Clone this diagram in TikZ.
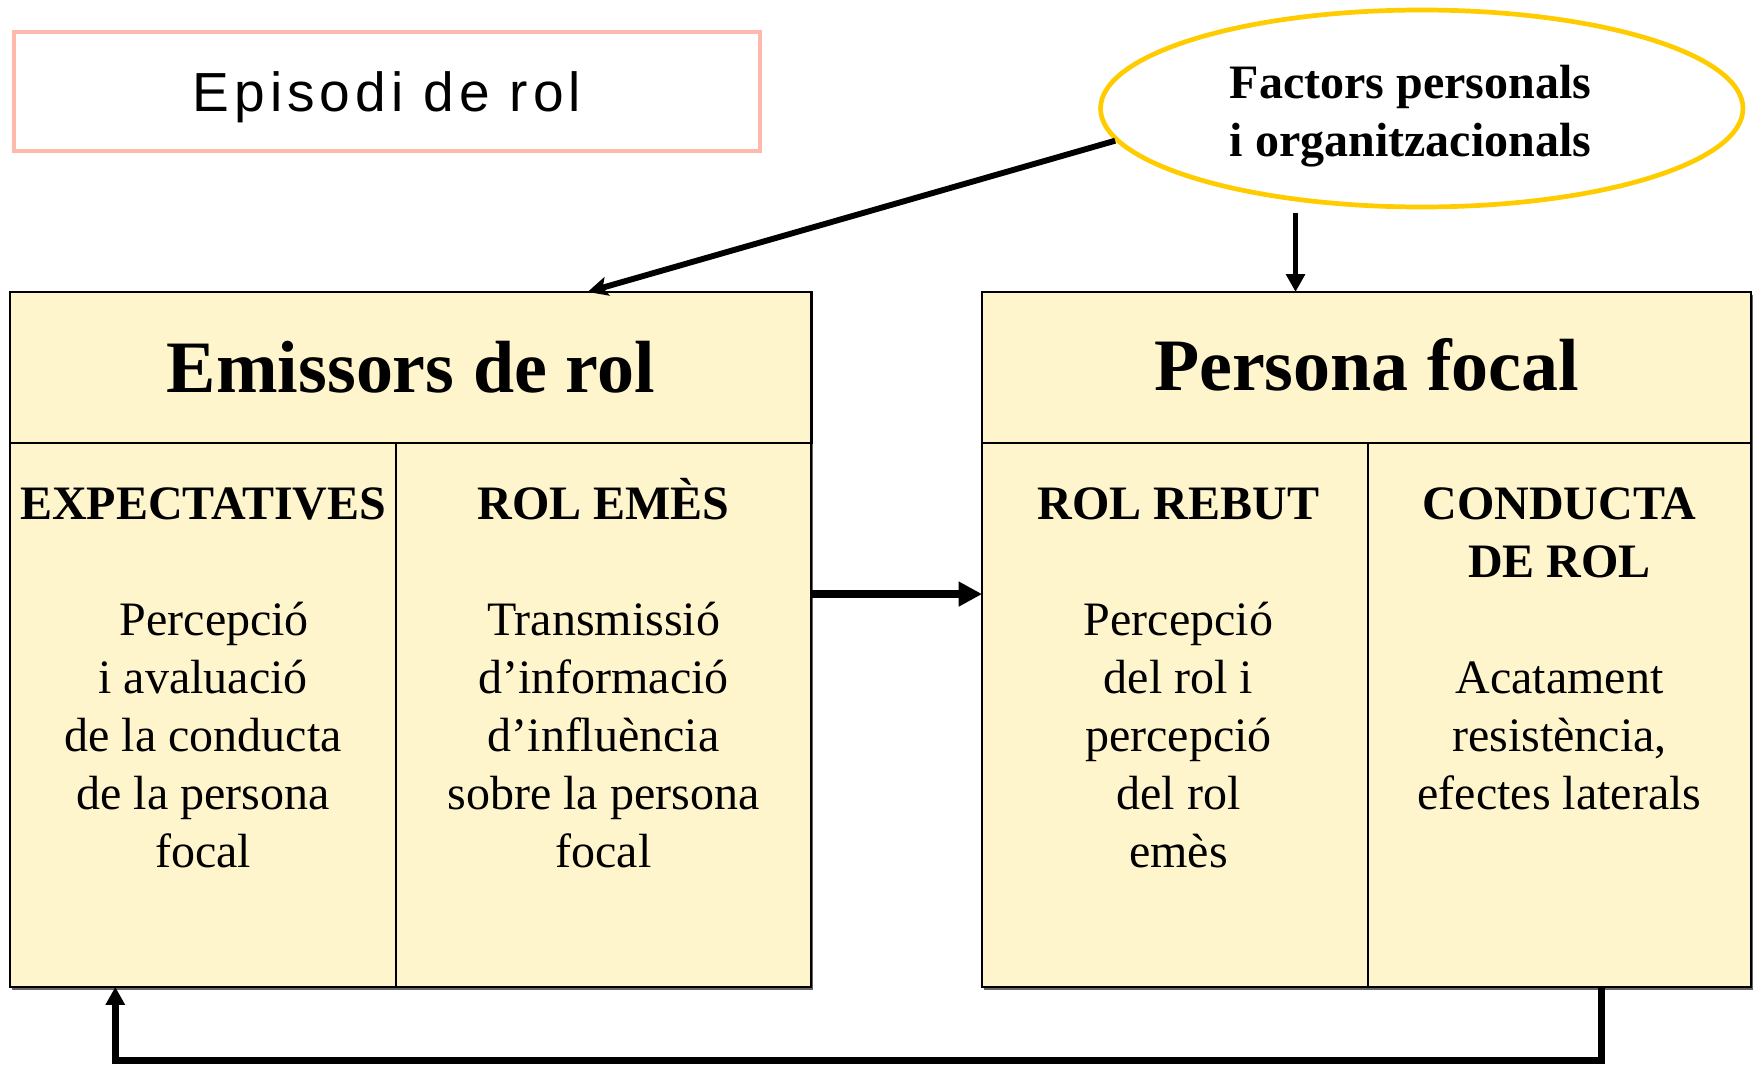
\documentclass[tikz,border=0pt]{standalone}
\usepackage{fontspec}
\setmainfont{Liberation Serif}
\newfontfamily\titlefont{Liberation Sans}[LetterSpace=9.0]
\usetikzlibrary{shapes.geometric, arrows.meta, positioning, shadows}
\definecolor{rolefill}{HTML}{FFF5CC}
\definecolor{titlepink}{HTML}{FFB8AC}
\definecolor{factorgold}{HTML}{FFCC00}
\newcommand{\cellstrut}{\rule{0pt}{12pt}}

\begin{document}
\begin{tikzpicture}[x=0.01cm, y=-0.01cm,
        panel/.style = {
            rectangle,
            draw,
            fill=rolefill,
            line width=0.6pt,
            inner sep=0pt,
            outer sep=0pt,
            anchor=north west,
            drop shadow={shadow xshift=0.5pt, shadow yshift=-0.7pt, fill=black!60, opacity=1}
        },
        panel_head/.style = {font=\bfseries\fontsize{18.8}{22}\selectfont},
        cell_text/.style = {
            align=center,
            inner sep=0pt,
            font=\fontsize{12.2}{14.74}\selectfont
        },
        flow/.style = {-{Triangle[length=1.6mm, width=1.65mm]}, line width=1.7pt},
        bigflow/.style = {-{Triangle[length=2.1mm, width=2.1mm]}, line width=1.9pt},
        thinflow/.style = {-{Stealth[length=1.8mm, width=1.7mm, inset=0.4mm]}, line width=1.5pt}
        ]

        \useasboundingbox (0,0) rectangle (1568,952);

        \node (episode) [draw=titlepink, line width=1pt, minimum width=6.66cm, minimum height=1.06cm,
            text depth=0pt, font=\titlefont\fontsize{14}{16}\selectfont] at (346,82) {Episodi de rol};

        \node (factors) [ellipse, draw=factorgold, line width=1.2pt, minimum width=5.74cm, minimum height=1.76cm,
            inner sep=0pt] at (1271,97) {};
        \node (factors_txt) [align=center, inner sep=0pt, font=\bfseries\fontsize{12.2}{14.74}\selectfont]
            at ([xshift=-0.1cm, yshift=-0.07cm]factors.center) {Factors personals\\i organitzacionals};

        \node (emit_head) [panel, panel_head, minimum width=7.16cm, minimum height=1.35cm] at (9,261) {Emissors de rol};
        \node (emit_expect) [panel, minimum width=3.45cm, minimum height=4.86cm] at (9,396) {};
        \node (emit_send) [panel, minimum width=3.71cm, minimum height=4.86cm] at (354,396) {};

        \node (focal_head) [panel, panel_head, minimum width=6.87cm, minimum height=1.35cm] at (878,261) {\raisebox{0.05cm}{Persona focal}};
        \node (focal_recv) [panel, minimum width=3.45cm, minimum height=4.86cm] at (878,396) {};
        \node (focal_conduct) [panel, minimum width=3.42cm, minimum height=4.86cm] at (1223,396) {};

        \node (expect_txt) [cell_text, below=0.258cm of emit_expect.north]
            {\cellstrut\textbf{EXPECTATIVES}\\[14.74pt]\hspace*{0.2cm}Percepció\\i avaluació\\de la conducta\\de la persona\\focal};
        \node (send_txt) [cell_text, below=0.258cm of emit_send.north]
            {\cellstrut\textbf{ROL EMÈS}\\[14.74pt]Transmissió\\d’informació\\d’influència\\sobre la persona\\focal};
        \node (recv_txt) [cell_text, below=0.258cm of focal_recv.north, xshift=0.03cm]
            {\cellstrut\textbf{ROL REBUT}\\[14.74pt]Percepció\\del rol i\\percepció\\del rol\\emès};
        \node (conduct_txt) [cell_text, below=0.258cm of focal_conduct.north]
            {\cellstrut\textbf{CONDUCTA}\\\textbf{DE ROL}\\[14.74pt]Acatament\\resistència,\\efectes laterals};

        \coordinate (focal_in) at ([xshift=-0.635cm]focal_head.north);

        \draw[thinflow] (factors.186) -- ([xshift=1.58cm]emit_head.north);
        \draw[flow, line width=1.45pt] ([yshift=-0.03cm]factors.south -| focal_in) -- (focal_in);
        \draw[bigflow] ([yshift=1.08cm]emit_send.east) -- ([yshift=1.08cm]focal_recv.west);
        \draw[flow] ([xshift=0.375cm]focal_conduct.south) -- ++(0,66) -| ([xshift=-0.785cm]emit_expect.south);

    \end{tikzpicture}
\end{document}
